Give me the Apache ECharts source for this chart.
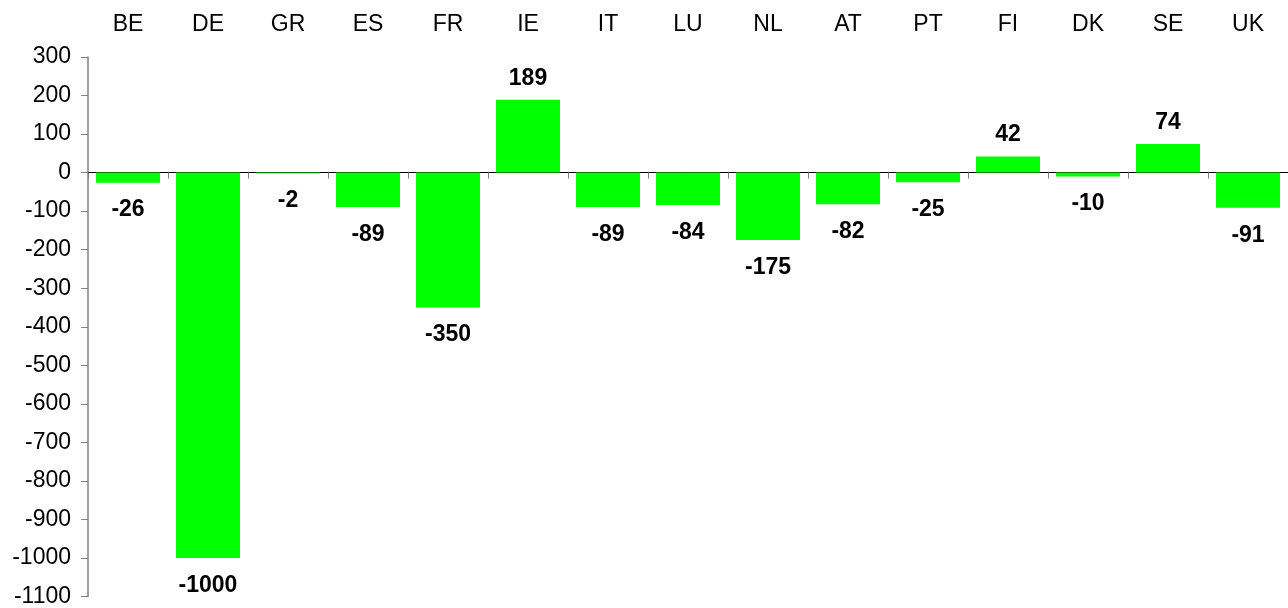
<!DOCTYPE html>
<html>
<head>
<meta charset="utf-8">
<script src="https://cdn.jsdelivr.net/npm/echarts@6/dist/echarts.min.js"></script>
<style>
html,body{margin:0;padding:0;background:#fff;}
#chart{width:1288px;height:608px;}
</style>
</head>
<body>
<div id="chart"></div>
<script>
var categories = ['BE','DE','GR','ES','FR','IE','IT','LU','NL','AT','PT','FI','DK','SE','UK'];
var values = [-26,-1000,-2,-89,-350,189,-89,-84,-175,-82,-25,42,-10,74,-91];
var yMin = -1100, yMax = 300, yStep = 100;

var FONT = '"Liberation Sans", Arial, sans-serif';
var chart = echarts.init(document.getElementById('chart'), null, {renderer:'canvas'});
var seriesData = values.map(function(v){
  return {value: v, label: {position: v < 0 ? 'bottom' : 'top', distance: v < 0 ? 16 : 10}};
});
chart.setOption({
  animation: false,
  backgroundColor: '#ffffff',
  grid: {left: 88, right: 0, top: 57, bottom: 11, containLabel: false},
  xAxis: [
    {
      type: 'category', data: categories, position: 'bottom',
      axisLine: {onZero: true, lineStyle: {color: '#000000', width: 1}},
      axisTick: {show: true, length: 6, lineStyle: {color: '#808080', width: 1}},
      axisLabel: {show: false},
      splitLine: {show: false}
    },
    {
      type: 'category', data: categories, position: 'top',
      axisLine: {show: false, onZero: false},
      axisTick: {show: false},
      axisLabel: {show: true, color: '#000', fontSize: 23, fontFamily: FONT, margin: 21},
      splitLine: {show: false}
    }
  ],
  yAxis: {
    type: 'value', min: yMin, max: yMax, interval: yStep,
    axisLine: {show: true, lineStyle: {color: '#808080', width: 1.5}},
    axisTick: {show: true, length: 7, lineStyle: {color: '#808080', width: 1}},
    axisLabel: {color: '#000', fontSize: 23, fontFamily: FONT, margin: 17,
      padding: [4, 0, 0, 0],
      formatter: function(v){ return String(v); }},
    splitLine: {show: false}
  },
  series: [{
    type: 'bar', xAxisIndex: 0, data: seriesData,
    barCategoryGap: '20%',
    itemStyle: {color: '#00FF00'},
    label: {show: true, color: '#000', fontSize: 23, fontWeight: 'bold', fontFamily: FONT}
  }]
});
</script>
</body>
</html>
